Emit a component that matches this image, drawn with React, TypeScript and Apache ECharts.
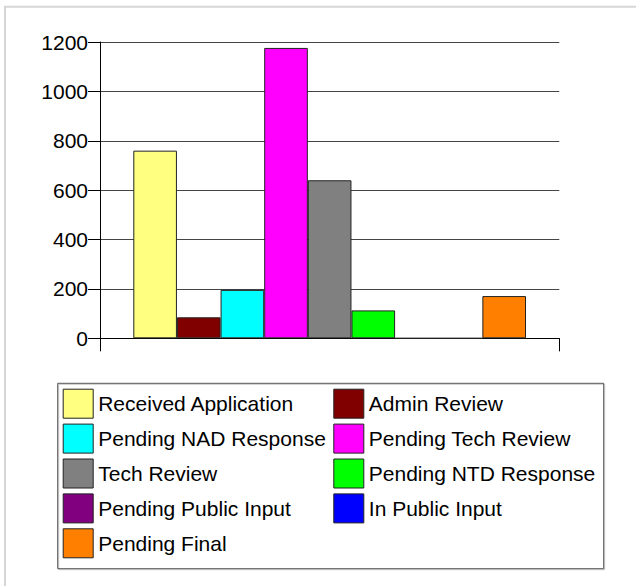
import React, { useEffect, useRef } from "react";
import * as echarts from "echarts";

const categories = [""];
const seriesNames = [
  "Received Application",
  "Admin Review",
  "Pending NAD Response",
  "Pending Tech Review",
  "Tech Review",
  "Pending NTD Response",
  "Pending Public Input",
  "In Public Input",
  "Pending Final",
];
const seriesValues = [760, 85, 196, 1176, 640, 113, 0, 0, 171];
const seriesColors = [
  "#FFFF80",
  "#800000",
  "#00FFFF",
  "#FF00FF",
  "#808080",
  "#00FF00",
  "#800080",
  "#0000FF",
  "#FF8000",
];
const yTicks = { min: 0, max: 1200, interval: 200 };

const FONT = "'Liberation Sans', Arial, sans-serif";

export default function App() {
  const ref = useRef<HTMLDivElement>(null);
  useEffect(() => {
    if (!ref.current) return;
    const chart = echarts.init(ref.current, undefined, { renderer: "svg" });
    const legendBase = {
      top: 388.7,
      orient: "vertical",
      itemWidth: 30,
      itemHeight: 29,
      itemGap: 4.9,
      padding: 0,
      selectedMode: false,
      icon: "rect",
      itemStyle: { borderColor: "#222", borderWidth: 1 },
      textStyle: { color: "#000", fontSize: 21, fontFamily: FONT },
    };
    chart.setOption({
      animation: false,
      backgroundColor: "#ffffff",
      textStyle: { fontFamily: FONT },
      graphic: [
        {
          type: "rect",
          shape: { x: 5, y: 6.7, width: 700, height: 700 },
          style: { fill: "none", stroke: "#d6d6d6", lineWidth: 2 },
          silent: true,
        },
        {
          type: "rect",
          shape: { x: 58.7, y: 384.3, width: 546, height: 185.4 },
          style: { fill: "none", stroke: "#c8c8c8", lineWidth: 1 },
          silent: true,
        },
        {
          type: "rect",
          shape: { x: 57.7, y: 383.3, width: 546, height: 185.4 },
          style: { fill: "none", stroke: "#555", lineWidth: 1 },
          silent: true,
        },
      ],
      grid: { left: 100, right: 76.7, top: 42, bottom: 247.7, containLabel: false },
      xAxis: {
        type: "category",
        data: categories,
        boundaryGap: true,
        axisLine: { show: true, lineStyle: { color: "#000", width: 1 } },
        axisTick: { show: true, length: 13, lineStyle: { color: "#000", width: 1 } },
        axisLabel: { show: false },
        splitLine: { show: false },
      },
      yAxis: {
        type: "value",
        min: yTicks.min,
        max: yTicks.max,
        interval: yTicks.interval,
        axisLine: { show: true, lineStyle: { color: "#000", width: 1 } },
        axisTick: { show: true, length: 12, lineStyle: { color: "#000", width: 1 } },
        axisLabel: {
          color: "#000",
          fontSize: 21,
          fontFamily: FONT,
          margin: 12,
          formatter: (v: number) => String(v),
        },
        splitLine: { show: true, lineStyle: { color: "#444", width: 1 } },
      },
      legend: [
        { ...legendBase, left: 62.7, data: seriesNames.filter((_, i) => i % 2 === 0) },
        { ...legendBase, left: 333.3, data: seriesNames.filter((_, i) => i % 2 === 1) },
      ],
      series: seriesNames.map((name, i) => ({
        name,
        type: "bar",
        data: [seriesValues[i]],
        barGap: "0%",
        barCategoryGap: "14.5%",
        itemStyle: {
          color: seriesColors[i],
          borderColor: "#222",
          borderWidth: 1,
        },
      })),
    });
    return () => chart.dispose();
  }, []);
  return (
    <div
      ref={ref}
      style={{ position: "fixed", left: 0, top: 0, width: 636, height: 586 }}
    />
  );
}
